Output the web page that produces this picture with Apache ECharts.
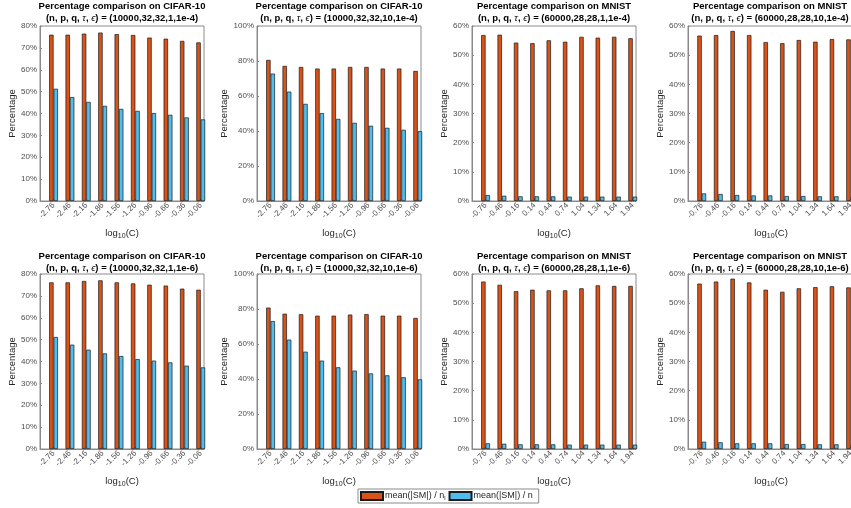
<!DOCTYPE html>
<html>
<head>
<meta charset="utf-8">
<script src="https://cdn.jsdelivr.net/npm/echarts@6/dist/echarts.min.js"></script>
<style>
  html, body { margin: 0; padding: 0; background: #fff; }
  #chart { width: 851px; height: 508px; }
</style>
</head>
<body>
<div id="chart"></div>
<script>
// Tick labels: log10(C) values for each data set
const cifarLabels = ['-2.76', '-2.46', '-2.16', '-1.86', '-1.56', '-1.26', '-0.96', '-0.66', '-0.36', '-0.06'];
const mnistLabels = ['-0.76', '-0.46', '-0.16', '0.14', '0.44', '0.74', '1.04', '1.34', '1.64', '1.94'];

// mean(|SM|)/n_l  and  mean(|SM|)/n  in percent
const cifarT1E4_nl = [76.0, 76.0, 76.5, 77.0, 76.3, 75.9, 74.7, 74.2, 73.2, 72.5];
const cifarT1E4_n  = [51.3, 47.5, 45.3, 43.5, 42.1, 41.2, 40.2, 39.4, 38.2, 37.3];
const cifarT10E4_nl = [80.6, 77.2, 76.6, 75.7, 75.7, 76.6, 76.6, 75.7, 75.7, 74.3];
const cifarT10E4_n  = [72.8, 62.5, 55.5, 50.2, 46.9, 44.7, 43.0, 41.8, 40.7, 39.9];
const mnistT1E4_nl = [56.9, 57.0, 54.3, 54.1, 55.1, 54.6, 56.3, 56.0, 56.3, 55.8];
const mnistT1E4_n  = [2.05, 1.8, 1.6, 1.6, 1.6, 1.5, 1.5, 1.5, 1.5, 1.5];
const mnistT10E4_nl = [56.7, 56.9, 58.3, 56.9, 54.5, 54.1, 55.2, 54.6, 55.5, 55.4];
const mnistT10E4_n  = [2.6, 2.4, 2.05, 1.9, 1.9, 1.7, 1.7, 1.6, 1.6, 1.6];
const cifarT1E6_nl = [76.2, 76.2, 76.8, 77.1, 76.2, 75.7, 75.1, 74.7, 73.3, 72.8];
const cifarT1E6_n  = [51.2, 47.7, 45.4, 43.7, 42.5, 41.1, 40.4, 39.6, 38.1, 37.3];
const cifarT10E6_nl = [80.8, 77.3, 77.0, 76.2, 76.2, 76.8, 77.1, 76.2, 76.2, 74.9];
const cifarT10E6_n  = [73.1, 62.5, 55.6, 50.5, 46.7, 44.8, 43.2, 42.1, 41.0, 39.8];
const mnistT1E6_nl = [57.4, 56.3, 54.1, 54.6, 54.4, 54.4, 55.1, 56.1, 55.9, 55.9];
const mnistT1E6_n  = [1.95, 1.8, 1.6, 1.6, 1.6, 1.5, 1.5, 1.5, 1.5, 1.5];
const mnistT10E6_nl = [56.7, 57.4, 58.4, 57.1, 54.6, 53.9, 55.1, 55.5, 55.8, 55.4];
const mnistT10E6_n  = [2.5, 2.3, 1.95, 1.95, 1.95, 1.7, 1.7, 1.6, 1.6, 1.6];

const seriesNames = ['mean(|SM|) / n_l', 'mean(|SM|) / n'];

// Panel descriptions: data set, parameter tuple, y-axis range
const panels = [
  { set: 'CIFAR-10', params: '10000,32,32,1,1e-4', labels: cifarLabels, nl: cifarT1E4_nl, n: cifarT1E4_n, yMax: 80, yStep: 10 },
  { set: 'CIFAR-10', params: '10000,32,32,10,1e-4', labels: cifarLabels, nl: cifarT10E4_nl, n: cifarT10E4_n, yMax: 100, yStep: 20 },
  { set: 'MNIST', params: '60000,28,28,1,1e-4', labels: mnistLabels, nl: mnistT1E4_nl, n: mnistT1E4_n, yMax: 60, yStep: 10 },
  { set: 'MNIST', params: '60000,28,28,10,1e-4', labels: mnistLabels, nl: mnistT10E4_nl, n: mnistT10E4_n, yMax: 60, yStep: 10 },
  { set: 'CIFAR-10', params: '10000,32,32,1,1e-6', labels: cifarLabels, nl: cifarT1E6_nl, n: cifarT1E6_n, yMax: 80, yStep: 10 },
  { set: 'CIFAR-10', params: '10000,32,32,10,1e-6', labels: cifarLabels, nl: cifarT10E6_nl, n: cifarT10E6_n, yMax: 100, yStep: 20 },
  { set: 'MNIST', params: '60000,28,28,1,1e-6', labels: mnistLabels, nl: mnistT1E6_nl, n: mnistT1E6_n, yMax: 60, yStep: 10 },
  { set: 'MNIST', params: '60000,28,28,10,1e-6', labels: mnistLabels, nl: mnistT10E6_nl, n: mnistT10E6_n, yMax: 60, yStep: 10 }
];

// Layout of the 2 x 4 subplot grid (the last column runs past the right edge)
const colLeft = [40, 257, 472, 688];
const colWidth = [164, 164, 164, 166];
const rowTop = [26, 274];
const plotH = 175;
const yNameGap = [21, 27, 21, 20];

const FONT = '"Liberation Sans", Arial, Helvetica, sans-serif';
const ORANGE = '#D95319';
const BLUE = '#4DBEEE';
const AXIS = '#8a8a8a';
const TICKTXT = '#4d4d4d';

const grids = [], xAxes = [], yAxes = [], titles = [], series = [];
const tickPos = [1, 2, 3, 4, 5, 6, 7, 8, 9, 10];

panels.forEach((p, k) => {
  const col = k % 4, row = Math.floor(k / 4);
  const left = colLeft[col], top = rowTop[row], w = colWidth[col];
  grids.push({
    left: left, top: top, width: w, height: plotH,
    show: true, borderColor: AXIS, borderWidth: 1, backgroundColor: 'transparent',
    containLabel: false, outerBoundsMode: 'none'
  });
  xAxes.push({
    type: 'value', gridIndex: k, min: 0.17, max: 10.2,
    name: 'log{sub|10}(C)', nameLocation: 'middle', nameGap: 26,
    nameTextStyle: {
      fontFamily: FONT, fontSize: 9.5, color: '#262626',
      rich: { sub: { fontFamily: FONT, fontSize: 7, color: '#262626', padding: [6, 0, 0, 0], verticalAlign: 'bottom' } }
    },
    axisLine: { show: true, lineStyle: { color: AXIS, width: 1 } },
    axisTick: { show: true, inside: true, length: 2, lineStyle: { color: AXIS }, customValues: tickPos },
    axisLabel: {
      customValues: tickPos, rotate: 45, margin: 3,
      fontFamily: FONT, fontSize: 8, color: TICKTXT,
      formatter: (v) => p.labels[Math.round(v) - 1]
    },
    splitLine: { show: false }
  });
  yAxes.push({
    type: 'value', gridIndex: k, min: 0, max: p.yMax, interval: p.yStep,
    name: 'Percentage', nameLocation: 'middle', nameGap: yNameGap[col], nameRotate: 90,
    nameTextStyle: { fontFamily: FONT, fontSize: 9.5, color: '#262626' },
    axisLine: { show: true, lineStyle: { color: AXIS, width: 1 } },
    axisTick: { show: true, inside: true, length: 2, lineStyle: { color: AXIS } },
    axisLabel: { fontFamily: FONT, fontSize: 8, color: TICKTXT, margin: 3, formatter: (v) => v + '%' },
    splitLine: { show: false }
  });
  titles.push({
    text: 'Percentage comparison on ' + p.set + '\n(n, p, q, {it|τ}, {it|ϵ}) = (' + p.params + ')',
    left: left + 164 / 2, top: row === 0 ? 0 : 250,
    textAlign: 'center', padding: 0,
    textStyle: {
      fontFamily: FONT, fontSize: 9.5, fontWeight: 'bold', color: '#000', lineHeight: 12.5,
      rich: { it: { fontFamily: FONT, fontSize: 9.5, fontStyle: 'italic', fontWeight: 'normal', color: '#000', lineHeight: 12.5 } }
    }
  });
  [[p.nl, ORANGE, seriesNames[0]], [p.n, BLUE, seriesNames[1]]].forEach(([vals, color, name]) => {
    series.push({
      type: 'bar', name: name, xAxisIndex: k, yAxisIndex: k,
      barWidth: 4.4, barGap: '0%', clip: true,
      itemStyle: { color: color, borderColor: '#1a1a1a', borderWidth: 0.7 },
      emphasis: { disabled: true },
      animation: false,
      data: vals.map((v, i) => [i + 1, v])
    });
  });
});

const chart = echarts.init(document.getElementById('chart'), null, { renderer: 'canvas' });
chart.setOption({
  backgroundColor: '#fff',
  animation: false,
  title: titles,
  grid: grids,
  xAxis: xAxes,
  yAxis: yAxes,
  legend: {
    data: seriesNames,
    left: 358, top: 489,
    orient: 'horizontal',
    icon: 'rect', itemWidth: 22, itemHeight: 8, itemGap: 3,
    padding: [2, 6, 2, 2],
    borderColor: '#8a8a8a', borderWidth: 1, backgroundColor: '#fff',
    selectedMode: false,
    formatter: (name) => name === seriesNames[0] ? 'mean(|SM|) / n{sub|l}' : 'mean(|SM|) / n',
    textStyle: {
      fontFamily: FONT, fontSize: 9, color: '#262626', padding: [0, 0, 0, -3],
      rich: { sub: { fontFamily: FONT, fontSize: 6, color: '#262626', padding: [4, 0, 0, 0], verticalAlign: 'bottom' } }
    }
  },
  series: series
});
</script>
</body>
</html>
